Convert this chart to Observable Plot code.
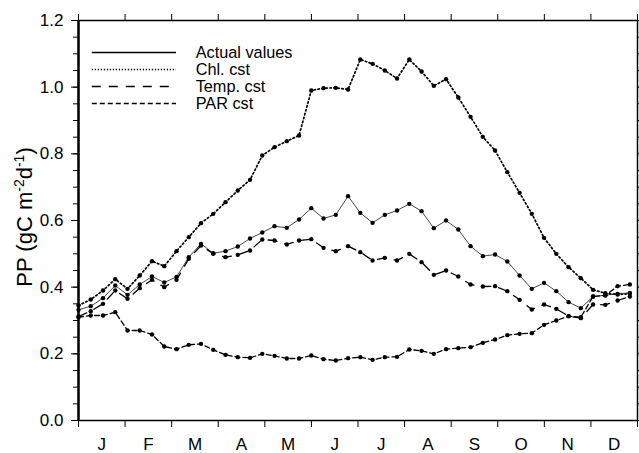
<!DOCTYPE html>
<html><head><meta charset="utf-8">
<script src="https://cdn.jsdelivr.net/npm/d3@7"></script>
<script src="https://cdn.jsdelivr.net/npm/@observablehq/plot@0.6"></script>
<style>body{margin:0;background:#fff;} svg{display:block;}</style>
</head><body><div id="chart"></div>
<script>
// 8-day composite start days (day of year)
const days = [1,9,17,25,33,41,49,57,65,73,81,89,97,105,113,121,129,137,145,153,161,169,177,185,193,201,209,217,225,233,241,249,257,265,273,281,289,297,305,313,321,329,337,345,353,361];
const monthLabels = ["J","F","M","A","M","J","J","A","S","O","N","D"];
const yMajorTicks = [0, 0.2, 0.4, 0.6, 0.8, 1.0, 1.2];

const actualValues = [0.332,0.343,0.367,0.405,0.377,0.408,0.432,0.414,0.431,0.49,
  0.53,0.502,0.508,0.522,0.546,0.564,0.583,0.578,0.603,0.637,
  0.606,0.617,0.673,0.623,0.593,0.617,0.63,0.65,0.628,0.577,
  0.6,0.573,0.523,0.493,0.498,0.477,0.435,0.395,0.413,0.388,
  0.355,0.337,0.372,0.376,0.38,0.383];
const chlCst = [0.345,0.363,0.39,0.424,0.395,0.435,0.478,0.463,0.508,0.55,
  0.592,0.62,0.655,0.69,0.722,0.795,0.82,0.838,0.855,0.99,
  0.997,0.998,0.993,1.083,1.07,1.05,1.026,1.083,1.047,1.004,
  1.024,0.969,0.911,0.851,0.81,0.745,0.683,0.62,0.548,0.5,
  0.46,0.427,0.392,0.382,0.378,0.38];
const tempCst = [0.312,0.328,0.35,0.39,0.365,0.397,0.422,0.4,0.422,0.485,
  0.525,0.5,0.49,0.497,0.51,0.543,0.54,0.528,0.54,0.544,
  0.518,0.508,0.523,0.505,0.48,0.488,0.48,0.5,0.475,0.437,
  0.45,0.432,0.408,0.402,0.403,0.388,0.362,0.333,0.348,0.335,
  0.313,0.307,0.348,0.347,0.36,0.372];
const parCst = [0.31,0.315,0.315,0.325,0.27,0.27,0.258,0.222,0.214,0.227,
  0.23,0.212,0.197,0.19,0.188,0.2,0.194,0.186,0.186,0.195,
  0.184,0.18,0.187,0.19,0.182,0.19,0.191,0.213,0.209,0.2,
  0.214,0.217,0.22,0.233,0.243,0.256,0.26,0.262,0.287,0.3,
  0.313,0.31,0.372,0.375,0.403,0.408];
const seriesNames = ["Actual values","Chl. cst","Temp. cst","PAR cst"];

const styles = [
  {values: actualValues, stroke: "#333", strokeWidth: 0.9, dash: null, legendWidth: 1.6, legendDash: null},
  {values: chlCst, stroke: "#000", strokeWidth: 1.7, dash: "1.5,2.5", legendWidth: 1.3, legendDash: "1.3,1.7"},
  {values: tempCst, stroke: "#000", strokeWidth: 1.3, dash: "9,8", legendWidth: 1.3, legendDash: "9,8"},
  {values: parCst, stroke: "#000", strokeWidth: 1.3, dash: "5,3", legendWidth: 1.3, legendDash: "5,3"}
];

const yearLen = 365;
const monthEdges = d3.range(13).map(k => 1 + k * yearLen / 12);
const monthMids = d3.range(12).map(k => 1 + (k + 0.5) * yearLen / 12);
const yMinorTicks = d3.range(0, 1.2001, 0.05);

const font = "'Liberation Sans', Arial, Helvetica, sans-serif";

const marks = [
  Plot.axisY({ticks: yMinorTicks, tickSize: 5, tickFormat: () => "", label: null}),
  Plot.axisY({ticks: yMajorTicks, tickSize: 7, tickPadding: 8, tickFormat: d3.format(".1f"), label: null, fontSize: 17}),
  Plot.axisY({anchor: "right", ticks: yMinorTicks, tickSize: 4, tickFormat: () => "", label: null}),
  Plot.axisX({anchor: "top", ticks: monthEdges, tickSize: 7, tickFormat: () => "", label: null}),
  Plot.axisX({anchor: "bottom", ticks: monthEdges, tickSize: 7, tickFormat: () => "", label: null}),
  Plot.axisX({anchor: "bottom", ticks: monthMids, tickSize: 0, tickPadding: 17, tickFormat: (d, i) => monthLabels[i], label: null, fontSize: 17}),
  Plot.frame({stroke: "#000", strokeWidth: 1.5}),
  Plot.ruleX([1], {stroke: "#000", strokeWidth: 2.4})
];

styles.forEach((s, k) => {
  const data = days.map((d, i) => ({day: d, value: s.values[i]}));
  marks.push(Plot.line(data, {x: "day", y: "value", stroke: s.stroke, strokeWidth: s.strokeWidth, strokeDasharray: s.dash || undefined}));
});
styles.forEach((s, k) => {
  const data = days.map((d, i) => ({day: d, value: s.values[i]}));
  marks.push(Plot.dot(data, {x: "day", y: "value", r: 2.2, fill: "#000", stroke: "none"}));
});

// legend (placed in data space, upper-left)
const legendY = [1.104, 1.053, 1.002, 0.951];
styles.forEach((s, k) => {
  marks.push(Plot.ruleY([legendY[k]], {x1: 10, x2: 65, stroke: "#000", strokeWidth: s.legendWidth, strokeDasharray: s.legendDash || undefined}));
});
marks.push(Plot.text(seriesNames.map((n, k) => ({n, y: legendY[k]})), {x: () => 77.5, y: "y", text: "n", textAnchor: "start", lineAnchor: "middle", fontSize: 16.3, fill: "#000"}));

const plot = Plot.plot({
  width: 639, height: 453,
  marginLeft: 78, marginRight: 2, marginTop: 20, marginBottom: 33,
  style: {fontFamily: font, fontSize: "17px", color: "#000", background: "#fff", overflow: "visible"},
  x: {domain: [1, 1 + yearLen]},
  y: {domain: [0, 1.2]},
  marks
});

const svg = d3.select(plot);
const t = svg.append("text")
  .attr("transform", "translate(32,217) rotate(-90)")
  .attr("text-anchor", "middle")
  .attr("fill", "#000")
  .style("font-family", font)
  .style("font-size", "22px");
t.append("tspan").text("PP (gC m");
t.append("tspan").attr("dy", -8).style("font-size", "14px").text("-2");
t.append("tspan").attr("dy", 8).text("d");
t.append("tspan").attr("dy", -8).style("font-size", "14px").text("-1");
t.append("tspan").attr("dy", 8).text(")");

document.getElementById("chart").appendChild(plot);
</script>
</body></html>
